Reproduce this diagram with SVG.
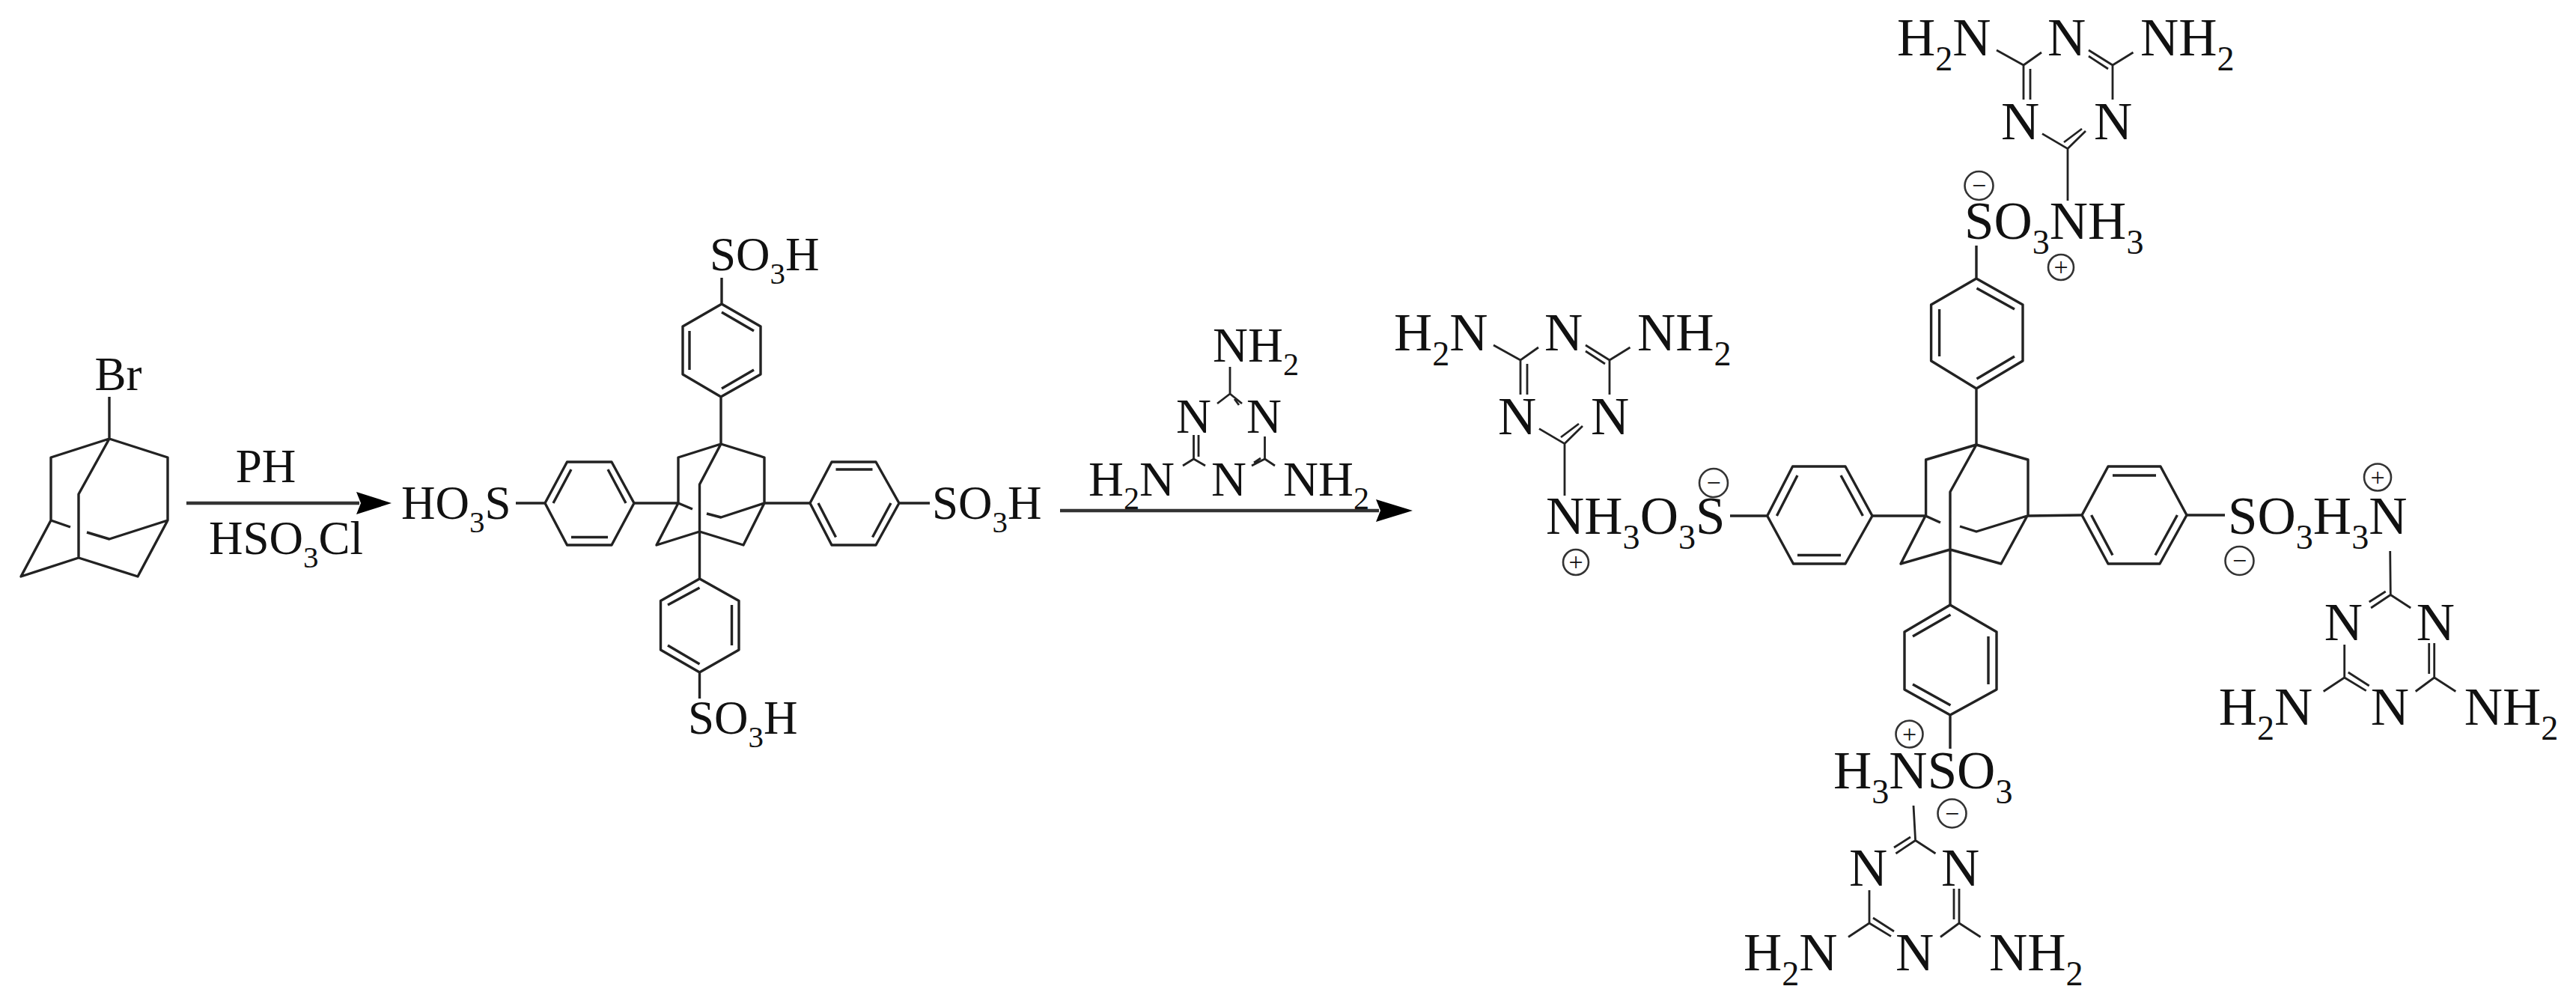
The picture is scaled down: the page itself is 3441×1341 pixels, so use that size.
<svg xmlns="http://www.w3.org/2000/svg" width="3441" height="1341" viewBox="0 0 3441 1341">
<style>
text{font-family:"Liberation Serif","Times New Roman",serif;fill:#111}
.a{font-size:63px}.b{font-size:65px}.c{font-size:71px}
.s{font-size:.65em}
.q{font-size:34px;text-anchor:middle}
path{fill:none;stroke:#222;stroke-width:3.4;stroke-linejoin:round}
.t path{stroke-width:2.8}
.o{fill:none;stroke:#333;stroke-width:2.6}
.h{fill:#000;stroke:none}
.l{fill:none;stroke:#333;stroke-width:4.5}
</style>
<rect width="3441" height="1341" fill="#fff"/>
<g id="bromoadamantane">
<path d="M146 530V586L68 611V695L94 704M116 711L146 720L224 695V611L146 586L105 660V745L28 770L68 695M105 745L184 770L224 695"/>
<text class="a" x="158" y="521" text-anchor="middle">Br</text>
</g>
<g id="tetrasulfonic-acid">
<path d="M963 593L906 611V672M963 593L1021 611V672L1082 672M963 593L934.5 647V773M906 672L925 680M944 686L963 691L1021 672L993 728L934.5 710L877 728L906 672L847 672"/>
<path d="M963 593V530L1016 500V436L964 406L912 436V500L963 530M964 406V371M921 442V494M964 417L1007 442M1007 494L964 519"/>
<path d="M847 672L817 617H757.5L728 672L757.5 728H817L847 672M728 672H689M739 672L763 627M812 627L836 672M763 717.5H812"/>
<path d="M934.5 773L882.5 802.5V868L934.5 898L987 868V802.5L934.5 773M934.5 898V933M934.5 785L892 808M892 862L934.5 887M977.5 808V862"/>
<path d="M1082 672L1111 617H1170L1201 672L1170 728H1111L1082 672M1201 672H1242M1116.5 627H1165.5M1093 672L1116.5 717.5M1165.5 717.5L1190 672"/>
<text class="a" x="948" y="361">SO<tspan class="s" dy="18">3</tspan><tspan dy="-18">H</tspan></text>
<text class="a" x="536" y="693">HO<tspan class="s" dy="18">3</tspan><tspan dy="-18">S</tspan></text>
<text class="a" x="919" y="980">SO<tspan class="s" dy="18">3</tspan><tspan dy="-18">H</tspan></text>
<text class="a" x="1245" y="693">SO<tspan class="s" dy="18">3</tspan><tspan dy="-18">H</tspan></text>
</g>
<g id="melamine" class="t">
<path d="M1643 490V526L1626 539M1643 526L1659 539M1649 533L1655 541M1594.5 581V613M1601 581V610M1594.5 613L1580 622M1594.5 613L1610 622M1689.5 583V613L1672 622M1689.5 613L1703 622M1684 612L1675 618"/>
<text class="b" x="1620" y="483">NH<tspan class="s" dy="18">2</tspan></text>
<text class="b" x="1571" y="578">N</text><text class="b" x="1665" y="578">N</text>
<text class="b" x="1618" y="662">N</text>
<text class="b" x="1454" y="662">H<tspan class="s" dy="18">2</tspan><tspan dy="-18">N</tspan></text>
<text class="b" x="1714" y="662">NH<tspan class="s" dy="18">2</tspan></text>
</g>
<g id="salt-core">
<path d="M2640 594L2572.6 614V689M2640 594L2709 614V689L2781 688M2640 594L2605 657V808M2501 689H2572L2592 698M2618 703L2640 710L2708 689L2673 753L2605 734L2539 753L2572 689"/>
<path d="M2640 594V519L2702 482V407L2640 372L2579.6 407V482L2640 519M2640 372V328M2590.6 413V476M2640.5 385L2691 413M2691 476L2640.5 506"/>
<path d="M2501 689L2465 623H2394.6L2360.7 689L2395.5 753H2465L2501 689M2360.7 689H2311M2373.4 689L2401 635M2459 635L2488.4 689M2401 741.5H2459"/>
<path d="M2781 688L2816 623H2886L2921 688L2885 753H2816L2781 688M2921 688H2972M2822 635H2880M2793.6 688L2822 741.5M2879 741.5L2908.4 688"/>
<path d="M2605 808L2544 844V921L2605 955L2667 921V844L2605 808M2605 955V1000M2605.5 821L2555 850M2555 914L2605.5 942M2656 850V914"/>
<text class="c" x="2624" y="319">SO<tspan class="s" dy="20">3</tspan><tspan dy="-20">NH</tspan><tspan class="s" dy="20">3</tspan></text>
<circle class="o" cx="2643.5" cy="248" r="19"/><text class="q" x="2643.5" y="259">−</text>
<circle class="o" cx="2753" cy="357" r="17"/><text class="q" x="2753" y="368">+</text>
<text class="c" x="2065" y="713">NH<tspan class="s" dy="20">3</tspan><tspan dy="-20">O</tspan><tspan class="s" dy="20">3</tspan><tspan dy="-20">S</tspan></text>
<circle class="o" cx="2289" cy="645" r="19"/><text class="q" x="2289" y="656">−</text>
<circle class="o" cx="2105" cy="751" r="17"/><text class="q" x="2105" y="762">+</text>
<text class="c" x="2976" y="713">SO<tspan class="s" dy="20">3</tspan><tspan dy="-20">H</tspan><tspan class="s" dy="20">3</tspan><tspan dy="-20">N</tspan></text>
<circle class="o" cx="2991.5" cy="749" r="19"/><text class="q" x="2991.5" y="760">−</text>
<circle class="o" cx="3176" cy="637.5" r="18"/><text class="q" x="3176" y="648.5">+</text>
<text class="c" x="2449" y="1053">H<tspan class="s" dy="20">3</tspan><tspan dy="-20">NSO</tspan><tspan class="s" dy="20">3</tspan></text>
<circle class="o" cx="2550.5" cy="980.5" r="18"/><text class="q" x="2550.5" y="991.5">+</text>
<circle class="o" cx="2607.5" cy="1086.5" r="19"/><text class="q" x="2607.5" y="1097.5">−</text>
</g>
<g id="melamine-top" class="t">
<path d="M2762 268V198.6L2728 178.6M2762 198.6L2786 175M2757 190L2781 172M2703 133V87L2667 67M2712 133V92M2703 87L2727 70M2822 133V87L2790 67M2816 92L2790 75M2822 87L2849.5 70"/>
<text class="c" x="2534" y="74">H<tspan class="s" dy="20">2</tspan><tspan dy="-20">N</tspan></text>
<text class="c" x="2735" y="74">N</text>
<text class="c" x="2859" y="74">NH<tspan class="s" dy="20">2</tspan></text>
<text class="c" x="2673" y="186">N</text><text class="c" x="2797" y="186">N</text>
</g>
<g id="melamine-left" class="t" transform="translate(-672 394)">
<path d="M2762 268V198.6L2728 178.6M2762 198.6L2786 175M2757 190L2781 172M2703 133V87L2667 67M2712 133V92M2703 87L2727 70M2822 133V87L2790 67M2816 92L2790 75M2822 87L2849.5 70"/>
<text class="c" x="2534" y="74">H<tspan class="s" dy="20">2</tspan><tspan dy="-20">N</tspan></text>
<text class="c" x="2735" y="74">N</text>
<text class="c" x="2859" y="74">NH<tspan class="s" dy="20">2</tspan></text>
<text class="c" x="2673" y="186">N</text><text class="c" x="2797" y="186">N</text>
</g>
<g id="melamine-bottom" class="t">
<path d="M2556 1076L2558.6 1122.5L2532.4 1140M2558.6 1122.5L2585.5 1140M2552 1118L2530 1132M2497 1189V1233L2469 1251.5M2497 1233L2526 1250.6M2502 1226L2530 1244M2617 1187V1233L2592 1251.5M2617 1233L2645.6 1251.5M2610 1187V1228"/>
<text class="c" x="2470" y="1183">N</text><text class="c" x="2593" y="1183">N</text>
<text class="c" x="2329" y="1296">H<tspan class="s" dy="20">2</tspan><tspan dy="-20">N</tspan></text>
<text class="c" x="2532" y="1296">N</text>
<text class="c" x="2657" y="1296">NH<tspan class="s" dy="20">2</tspan></text>
</g>
<g id="melamine-right" class="t" transform="translate(634.7 -328)">
<path d="M2558 1064L2558.6 1122.5L2532.4 1140M2558.6 1122.5L2585.5 1140M2552 1118L2530 1132M2497 1189V1233L2469 1251.5M2497 1233L2526 1250.6M2502 1226L2530 1244M2617 1187V1233L2592 1251.5M2617 1233L2645.6 1251.5M2610 1187V1228"/>
<text class="c" x="2470" y="1183">N</text><text class="c" x="2593" y="1183">N</text>
<text class="c" x="2329" y="1296">H<tspan class="s" dy="20">2</tspan><tspan dy="-20">N</tspan></text>
<text class="c" x="2532" y="1296">N</text>
<text class="c" x="2657" y="1296">NH<tspan class="s" dy="20">2</tspan></text>
</g>
<g id="connectors">
<line class="l" x1="249" y1="672" x2="480" y2="672"/>
<polygon class="h" points="476,657 523,672 476,687 482,672"/>
<line class="l" x1="1416" y1="682" x2="1842" y2="682"/>
<polygon class="h" points="1838,667 1887,682 1838,697 1844,682"/>
</g>
<g id="reagents">
<text class="a" x="355" y="644" text-anchor="middle">PH</text>
<text class="a" x="279" y="740">HSO<tspan class="s" dy="18">3</tspan><tspan dy="-18">Cl</tspan></text>
</g>
</svg>
